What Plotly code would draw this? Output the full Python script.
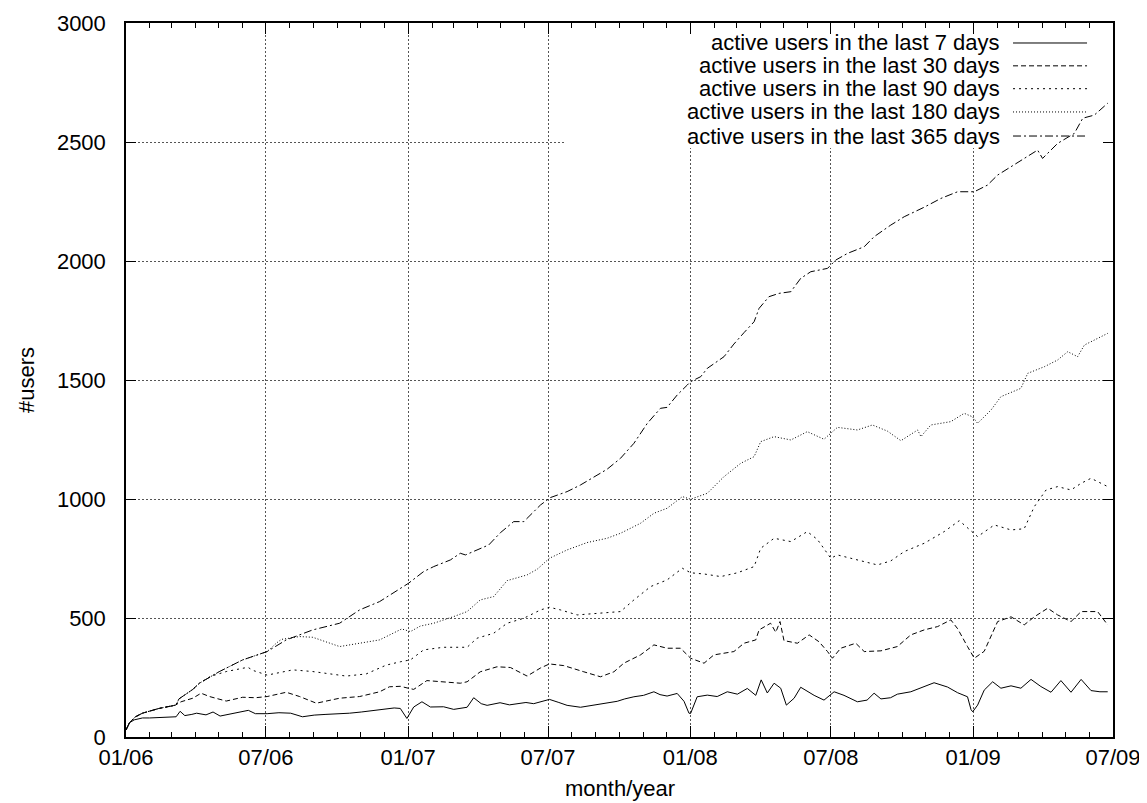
import numpy as np
import pandas as pd
import plotly.graph_objects as go

# x positions are given in months since 01/2006
m7 = [0, 0.15, 0.35, 0.7, 1.0, 1.5, 2.0, 2.13, 2.3, 2.5, 2.8, 3.0, 3.4, 3.7, 4.0, 4.5, 5.0, 5.2, 5.5,
      6.0, 6.5, 7.0, 7.5, 8.0, 8.5, 9.0, 9.5, 10.0, 10.5, 11.0, 11.4, 11.66, 11.94, 12.23, 12.58,
      12.94, 13.5, 13.93, 14.5, 14.78, 15.1, 15.35, 15.9, 16.3, 16.6, 17.0, 17.33, 17.7, 18.0, 18.4,
      18.75, 19.32, 19.8, 20.17, 20.5, 20.88, 21.2, 21.59, 22.0, 22.44, 22.7, 23.0, 23.43, 23.72,
      23.93, 24.0, 24.28, 24.71, 25.13, 25.56, 25.99, 26.41, 26.77, 27.0, 27.26, 27.55, 27.83,
      28.07, 28.4, 28.68, 29.25, 29.67, 30.1, 30.52, 31.09, 31.5, 31.8, 32.09, 32.5, 32.79, 33.36,
      33.93, 34.35, 34.92, 35.35, 35.77, 35.92, 35.99, 36.2, 36.48, 36.84, 37.19, 37.62, 38.04,
      38.47, 38.89, 39.32, 39.74, 40.17, 40.6, 41.02, 41.4, 41.73]
v7 = [30, 60, 72, 80, 80, 82, 82, 85, 108, 90, 95, 100, 93, 105, 88, 98, 105, 112, 98,
      98, 102, 100, 85, 92, 95, 97, 100, 105, 110, 118, 122, 120, 78, 126, 148,
      126, 127, 116, 125, 165, 140, 133, 144, 135, 138, 145, 140, 150, 158, 145,
      133, 125, 132, 137, 142, 150, 160, 169, 175, 190, 178, 172, 183, 150,
      100, 99, 169, 176, 170, 190, 180, 204, 175, 240, 185, 226, 205,
      134, 163, 209, 175, 155, 190, 175, 148, 155, 184, 160, 165, 180, 190,
      211, 228, 210, 186, 169, 115, 106, 134, 197, 232, 205, 215, 205,
      242, 212, 188, 237, 188, 242, 195, 190, 190]

m30 = [0, 0.15, 0.4, 0.7, 1.4, 2.1, 2.34, 2.84, 3.19, 3.55, 4.26, 4.96, 5.5, 6.0, 6.81, 7.38, 8.09,
       9.08, 9.93, 10.78, 11.2, 11.66, 12.0, 12.23, 12.79, 13.5, 14.21, 14.5, 15.06, 15.77, 16.34,
       17.05, 17.62, 18.0, 18.61, 19.46, 20.17, 20.74, 21.16, 21.87, 22.44, 23.0, 23.57, 24.0,
       24.57, 24.99, 25.84, 26.27, 26.77, 26.91, 27.4, 27.62, 27.8, 27.97, 28.54, 29.04, 29.46,
       29.82, 30.03, 30.38, 31.02, 31.38, 32.09, 32.79, 33.36, 33.93, 34.5, 35.06, 35.35, 35.77,
       36.06, 36.48, 36.77, 37.05, 37.62, 38.18, 38.61, 39.18, 39.6, 40.17, 40.6, 41.3, 41.73]
v30 = [30, 60, 85, 100, 120, 134, 148, 163, 184, 170, 151, 167, 165, 170, 188, 170, 142,
       163, 170, 190, 211, 213, 205, 200, 237, 232, 226, 232, 274, 295, 292,
       256, 290, 307, 300, 274, 253, 274, 310, 345, 387, 373, 373, 331,
       310, 345, 359, 394, 408, 450, 478, 440, 485, 405, 394, 429, 400,
       359, 331, 373, 394, 359, 362, 380, 429, 450, 464, 492, 455, 380,
       331, 360, 421, 485, 505, 471, 505, 541, 513, 485, 527, 527, 471]

m90 = [0, 0.15, 0.4, 0.7, 1.4, 2.13, 2.25, 2.84, 3.12, 3.6, 3.83, 4.26, 5.18, 5.39, 6.0, 7.09, 7.94,
       9.36, 10.21, 11.06, 11.66, 12.09, 12.65, 13.5, 14.5, 14.92, 15.63, 16.2, 16.91, 17.62, 18.0,
       18.47, 19.18, 20.17, 21.02, 21.59, 22.3, 23.0, 23.65, 24.0, 24.57, 25.28, 25.99, 26.7,
       26.98, 27.55, 28.26, 28.96, 29.39, 29.96, 30.24, 30.81, 31.38, 31.94, 32.51, 33.08, 33.93,
       34.78, 35.42, 35.77, 36.2, 36.91, 37.62, 38.18, 38.61, 39.11, 39.6, 40.17, 40.6, 41.02,
       41.45, 41.73]
v90 = [30, 60, 85, 100, 120, 134, 160, 200, 226, 255, 262, 275, 293, 280, 260, 282, 275,
       256, 265, 302, 316, 324, 366, 377, 377, 415, 436, 478, 499, 534, 545,
       534, 513, 520, 527, 576, 632, 660, 709, 690, 685, 674, 690, 716,
       793, 835, 821, 863, 830, 751, 765, 751, 737, 723, 740, 779, 814,
       863, 909, 880, 842, 891, 870, 875, 968, 1038, 1052, 1038, 1066, 1087,
       1066, 1052]

m180 = [0, 0.15, 0.4, 0.7, 1.4, 2.13, 2.25, 2.84, 3.12, 3.6, 3.97, 4.96, 6.0, 6.4, 6.6, 7.38, 7.94,
        9.08, 9.93, 10.78, 11.72, 12.09, 12.51, 13.08, 13.93, 14.5, 15.06, 15.63, 16.2, 17.05,
        17.48, 18.0, 18.75, 19.6, 20.45, 21.02, 21.87, 22.44, 23.0, 23.65, 24.0, 24.71, 25.42,
        26.13, 26.7, 26.98, 27.55, 28.26, 28.96, 29.67, 30.24, 31.09, 31.73, 32.37, 32.94, 33.65,
        33.79, 34.21, 35.06, 35.63, 35.99, 36.2, 36.77, 37.19, 38.04, 38.33, 39.04, 39.6, 40.03,
        40.45, 40.74, 41.73]
v180 = [30, 60, 85, 100, 120, 134, 160, 200, 226, 255, 275, 324, 359, 395, 410, 422, 419,
        380, 395, 408, 454, 443, 466, 478, 506, 527, 576, 590, 657, 681,
        705, 751, 786, 817, 835, 856, 898, 940, 961, 1010, 999, 1024, 1094,
        1150, 1178, 1241, 1262, 1248, 1283, 1251, 1301, 1290, 1311, 1285, 1245, 1290,
        1262, 1311, 1325, 1360, 1345, 1318, 1374, 1430, 1465, 1528, 1556, 1584, 1619,
        1598, 1647, 1696]

m365 = [0, 0.15, 0.4, 0.7, 1.4, 2.13, 2.25, 2.84, 3.12, 3.97, 4.96, 6.0, 6.81, 7.94, 9.08, 9.93,
        10.78, 11.63, 12.01, 12.65, 13.08, 13.79, 14.21, 14.43, 14.92, 15.42, 15.91, 16.48, 16.91,
        17.62, 18.04, 18.75, 19.32, 19.89, 20.45, 21.02, 21.59, 22.16, 22.72, 23.0, 23.43, 23.86,
        24.0, 24.43, 24.71, 25.42, 25.84, 26.27, 26.7, 26.91, 27.33, 27.76, 28.26, 28.68, 29.11,
        29.82, 30.17, 30.67, 31.38, 31.8, 32.51, 33.08, 33.93, 34.64, 35.35, 36.06, 36.62, 37.05,
        37.62, 38.18, 38.75, 38.96, 39.6, 40.31, 40.67, 41.16, 41.73]
v365 = [30, 60, 85, 100, 120, 134, 160, 200, 226, 275, 324, 359, 408, 450, 478, 534,
        569, 623, 646, 695, 716, 744, 772, 765, 786, 807, 858, 905, 905,
        975, 1006, 1031, 1059, 1091, 1125, 1171, 1234, 1318, 1381, 1385, 1437, 1479,
        1493, 1514, 1549, 1598, 1651, 1699, 1745, 1801, 1850, 1864, 1871, 1927, 1955,
        1969, 2004, 2032, 2060, 2102, 2151, 2186, 2226, 2263, 2291, 2291, 2319, 2361,
        2396, 2431, 2466, 2431, 2494, 2536, 2600, 2613, 2663]

names = ["active users in the last 7 days", "active users in the last 30 days",
         "active users in the last 90 days", "active users in the last 180 days",
         "active users in the last 365 days"]
dashes = ["solid", "5px,3px", "2px,4px", "1px,2px", "8px,3px,2px,3px"]
xtick_format = "%m/%y"

start = pd.Timestamp("2006-01-01")


def to_dates(months):
    return start + pd.to_timedelta(np.array(months) * 30.4375, unit="D")


FONT = "Liberation Sans, Arial, sans-serif"
FS = 22
fig = go.Figure()
for (mm, vv), name, dash in zip([(m7, v7), (m30, v30), (m90, v90), (m180, v180), (m365, v365)],
                                names, dashes):
    fig.add_trace(go.Scatter(x=to_dates(mm), y=vv, mode="lines", name=name,
                             line=dict(color="black", width=1, dash=dash), showlegend=False))

# opaque key box (hides grid lines behind the key, but not the data)
key_x0 = to_dates([18.68])[0]
fig.add_shape(type="rect", xref="x", yref="y", x0=key_x0, x1="2009-06-30", y0=2475, y1=2998,
              fillcolor="white", line=dict(width=0), layer="between")

# key entries: right-aligned text, sample on the right
row_y = [0.972, 0.940, 0.908, 0.8754, 0.8417]
for name, dash, yy in zip(names, dashes, row_y):
    fig.add_annotation(text=name, xref="paper", yref="paper", x=0.8875, y=yy,
                       xanchor="right", yanchor="middle", showarrow=False,
                       font=dict(family=FONT, size=FS, color="black"))
    fig.add_shape(type="line", xref="paper", yref="paper", x0=0.8987, x1=0.9737, y0=yy, y1=yy,
                  line=dict(color="black", width=1, dash=dash))

fig.add_annotation(text="#users", xref="paper", yref="paper", x=0, y=0.5, xshift=-100,
                   textangle=-90, xanchor="center", yanchor="middle", showarrow=False,
                   font=dict(family=FONT, size=FS, color="black"))
fig.add_annotation(text="month/year", xref="paper", yref="paper", x=0.5, y=0, yshift=-51,
                   xanchor="center", yanchor="middle", showarrow=False,
                   font=dict(family=FONT, size=FS, color="black"))

axis_common = dict(showline=True, linecolor="black", linewidth=1.5, mirror="ticks",
                   ticks="inside", tickcolor="black", tickwidth=1,
                   showgrid=True, gridcolor="#555555", gridwidth=1, griddash="2px,2px",
                   zeroline=False, tickfont=dict(family=FONT, size=FS, color="black"))

fig.update_xaxes(type="date", range=["2006-01-01", "2009-07-01"], dtick="M6", tick0="2006-01-01",
                 tickformat=xtick_format, ticklen=11, ticklabelstandoff=0,
                 minor=dict(dtick="M1", ticks="inside", ticklen=5, tickcolor="black", showgrid=False),
                 **axis_common)
fig.update_yaxes(range=[0, 3000], dtick=500, ticklen=10, ticklabelstandoff=14, **axis_common)

# the page body has an 8px default margin, so the figure is 8px smaller and the
# plot area still lands at the reference position
fig.update_layout(width=1139, height=795, margin=dict(l=118, r=34, t=15, b=66, autoexpand=False),
                  plot_bgcolor="white", paper_bgcolor="white",
                  font=dict(family=FONT, size=FS, color="black"))
fig.write_html("out.html")
